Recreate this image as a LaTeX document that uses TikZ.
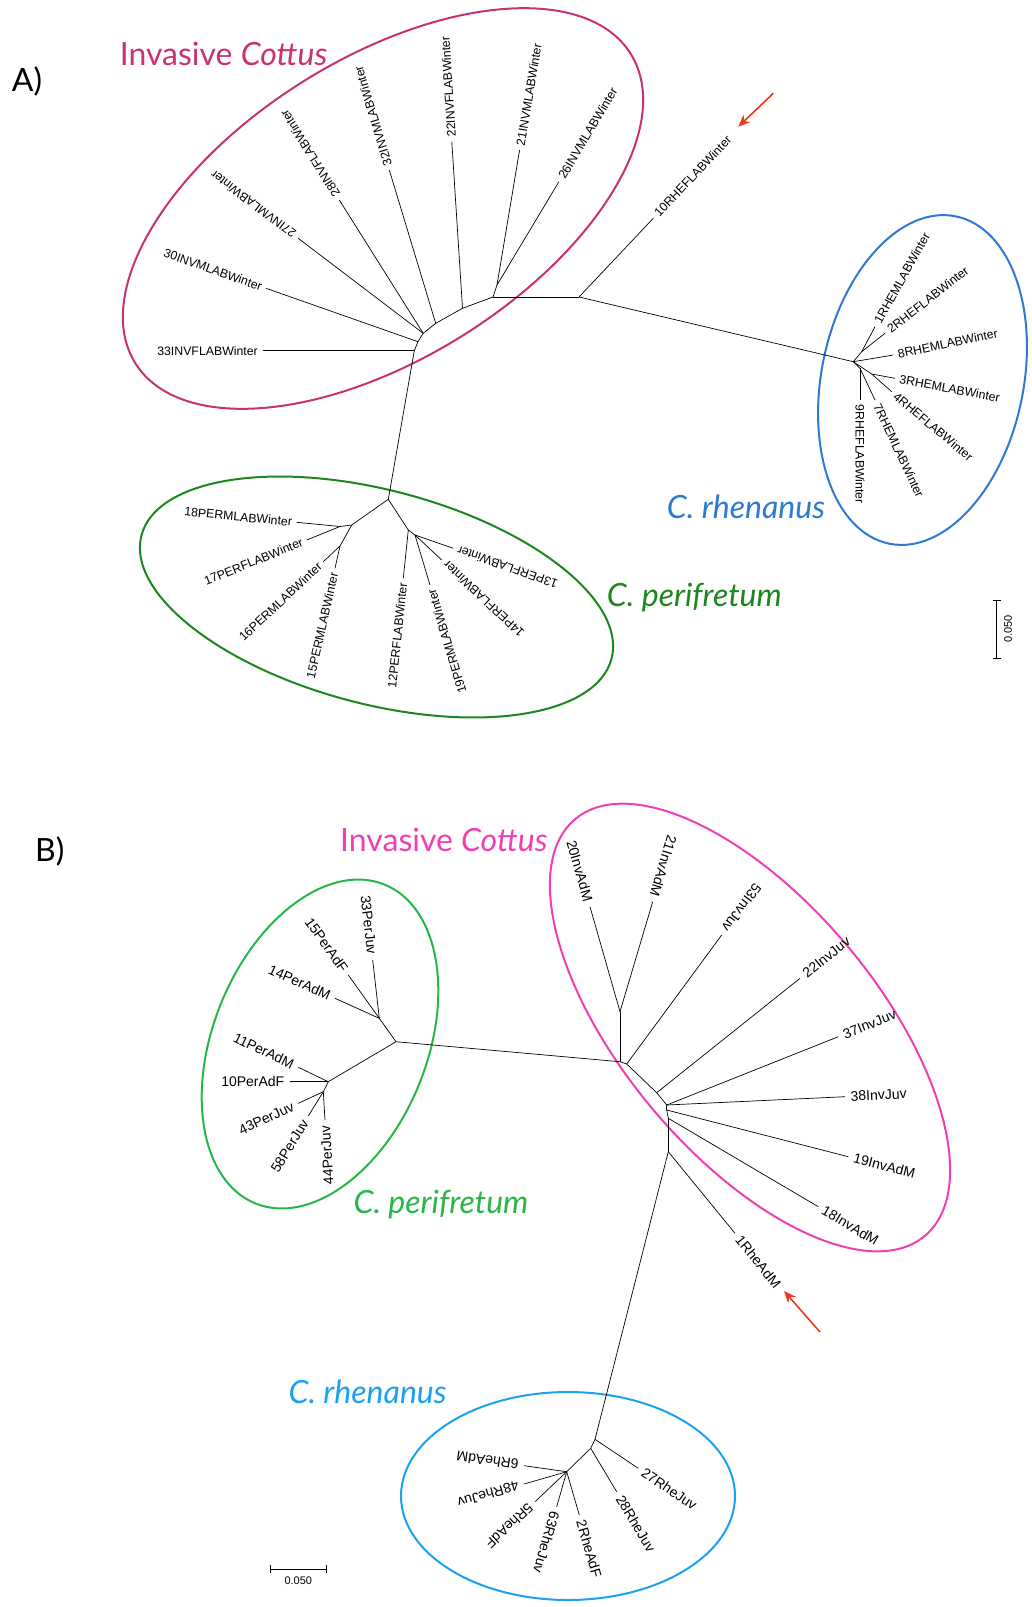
\documentclass[tikz,border=0pt]{standalone}
\usepackage{fontspec}
\setmainfont{Liberation Sans}
\newfontfamily\cladefont{Lato}
\usetikzlibrary{arrows.meta}

\definecolor{cottusA}{RGB}{200,50,115}
\definecolor{rhenA}{RGB}{45,122,208}
\definecolor{periA}{RGB}{28,135,28}
\definecolor{cottusB}{RGB}{242,62,180}
\definecolor{periB}{RGB}{40,182,70}
\definecolor{rhenB}{RGB}{28,160,240}
\definecolor{pointred}{RGB}{242,52,30}

\tikzset{
  branch/.style={draw, line width=0.7pt},
  tipA/.style={font=\fontsize{12.3}{14}\selectfont, inner sep=4.5pt},
  tipB/.style={font=\fontsize{14}{16}\selectfont, inner sep=5.5pt},
  clade/.style={font=\cladefont\fontsize{32}{34}\selectfont, anchor=base west, inner sep=0pt},
  panel/.style={font=\cladefont\fontsize{32}{34}\selectfont, anchor=base west, inner sep=0pt},
  ring/.style={line width=2pt},
  pointer/.style={draw=pointred, line width=1.6pt, -{Stealth[length=12pt,width=10pt]}},
  scalebar/.style={draw, line width=0.7pt},
  scaletext/.style={font=\fontsize{11}{12}\selectfont, inner sep=1pt},
}

\begin{document}
\begin{tikzpicture}[x=1pt,y=-1pt]
\useasboundingbox (0,0) rectangle (1032,1607);

% ---------------- A) ----------------
\node[panel] (panA) at (11.7,91.7) {A)};

\draw[ring, cottusA, rotate around={32:(383,208.5)}] (383,208.5) ellipse [x radius=292, y radius=150];
\draw[ring, rhenA, rotate around={-11.5:(922.5,380)}] (922.5,380) ellipse [x radius=101, y radius=167];
\draw[ring, periA, rotate around={-14.7:(376.5,597)}] (376.5,597) ellipse [x radius=243, y radius=107];

\node[clade, text=cottusA] (invA) at (119.6,65) {Invasive \textit{Cottus}};
\node[clade, text=rhenA] (rheA) at (666.7,518) {\textit{C. rhenanus}};
\node[clade, text=periA] (perA) at (606.7,606.7) {\textit{C. perifretum}};

% inner nodes
\coordinate (a0) at (579,297);
\coordinate (a1) at (493,297);
\coordinate (a2) at (497,285);
\coordinate (a3) at (462.5,308.3);
\coordinate (a4) at (435.7,323.3);
\coordinate (a5) at (423.2,333.3);
\coordinate (a6) at (417.9,341.7);
\coordinate (a7) at (414.3,350.7);
\coordinate (ra) at (853.3,361.7);
\coordinate (r12) at (861.7,351.7);
\coordinate (r34) at (871.7,374);
\coordinate (r79) at (860,368.3);
\coordinate (pa) at (388.3,499.3);
\coordinate (p18) at (351.7,525);
\coordinate (p1718) at (340,526.5);
\coordinate (p1516) at (340,546);
\coordinate (p13) at (408.3,530);
\coordinate (p1914) at (415,535);

% leaves
\coordinate (t26) at (558.9,181.7);
\coordinate (t21) at (519.6,150);
\coordinate (t22) at (451.8,141.7);
\coordinate (t32) at (389.3,170);
\coordinate (t28) at (339.3,200);
\coordinate (t27) at (298.2,238.3);
\coordinate (t30) at (266.1,288.3);
\coordinate (t33) at (262.5,350.7);
\coordinate (t10) at (653.3,218.3);
\coordinate (t1) at (875,326.7);
\coordinate (t2) at (885,333.3);
\coordinate (t8) at (893.3,355);
\coordinate (t3) at (895,378.3);
\coordinate (t4) at (891.7,391.7);
\coordinate (t7) at (875,400);
\coordinate (t9) at (860,400);
\coordinate (t18) at (296.7,522.3);
\coordinate (t17) at (306.7,540);
\coordinate (t16) at (323.3,561.7);
\coordinate (t15) at (335,568.3);
\coordinate (t12) at (403.3,578.3);
\coordinate (t19) at (430,585);
\coordinate (t14) at (441.7,560);
\coordinate (t13) at (453.3,548.3);

\node[tipA, anchor=west, rotate=59.1] (l26) at (t26) {26INVMLABWinter};
\node[tipA, anchor=west, rotate=80.5] (l21) at (t21) {21INVMLABWinter};
\node[tipA, anchor=west, rotate=93.7] (l22) at (t22) {22INVFLABWinter};
\node[tipA, anchor=west, rotate=106.8] (l32) at (t32) {32INVMLABWinter};
\node[tipA, anchor=west, rotate=122.2] (l28) at (t28) {28INVFLABWinter};
\node[tipA, anchor=west, rotate=142.8] (l27) at (t27) {27INVMLABWinter};
\node[tipA, anchor=east, rotate=-19.4] (l30) at (t30) {30INVMLABWinter};
\node[tipA, anchor=east] (l33) at (t33) {33INVFLABWinter};
\node[tipA, anchor=west, rotate=46.8] (l10) at (t10) {10RHEFLABWinter};
\node[tipA, anchor=west, rotate=61] (l1) at (t1) {1RHEMLABWinter};
\node[tipA, anchor=west, rotate=38] (l2) at (t2) {2RHEFLABWinter};
\node[tipA, anchor=west, rotate=12] (l8) at (t8) {8RHEMLABWinter};
\node[tipA, anchor=west, rotate=-10.5] (l3) at (t3) {3RHEMLABWinter};
\node[tipA, anchor=west, rotate=-40] (l4) at (t4) {4RHEFLABWinter};
\node[tipA, anchor=west, rotate=-64.7] (l7) at (t7) {7RHEMLABWinter};
\node[tipA, anchor=west, rotate=-90] (l9) at (t9) {9RHEFLABWinter};
\node[tipA, anchor=east, rotate=-5.5] (l18) at (t18) {18PERMLABWinter};
\node[tipA, anchor=east, rotate=22] (l17) at (t17) {17PERFLABWinter};
\node[tipA, anchor=east, rotate=43] (l16) at (t16) {16PERMLABWinter};
\node[tipA, anchor=east, rotate=77.4] (l15) at (t15) {15PERMLABWinter};
\node[tipA, anchor=east, rotate=84] (l12) at (t12) {12PERFLABWinter};
\node[tipA, anchor=east, rotate=106.7] (l19) at (t19) {19PERMLABWinter};
\node[tipA, anchor=east, rotate=137] (l14) at (t14) {14PERFLABWinter};
\node[tipA, anchor=east, rotate=160.8] (l13) at (t13) {13PERFLABWinter};

\path[branch]
  (a0) edge (a1)
  (a1) edge (a2)
  (a1) edge (a3)
  (a3) edge (a4)
  (a4) edge (a5)
  (a5) edge (a6)
  (a6) edge (a7)
  (a7) edge (pa)
  (a2) edge (t26)
  (a2) edge (t21)
  (a3) edge (t22)
  (a4) edge (t32)
  (a5) edge (t28)
  (a5) edge (t27)
  (a6) edge (t30)
  (a7) edge (t33)
  (a0) edge (t10)
  (a0) edge (ra)
  (ra) edge (r12)
  (r12) edge (t1)
  (r12) edge (t2)
  (ra) edge (t8)
  (ra) edge (r34)
  (r34) edge (t3)
  (r34) edge (t4)
  (ra) edge (r79)
  (r79) edge (t7)
  (r79) edge (t9)
  (pa) edge (p18)
  (p18) edge (p1718)
  (p1718) edge (t18)
  (p1718) edge (t17)
  (p18) edge (p1516)
  (p1516) edge (t16)
  (p1516) edge (t15)
  (pa) edge (p13)
  (p13) edge (t12)
  (p13) edge (p1914)
  (p1914) edge (t19)
  (p1914) edge (t14)
  (p1914) edge (t13)
  ;

\coordinate (arrAtail) at (773.3,93.3);
\coordinate (arrAhead) at (738.3,126.7);
\draw[pointer] (arrAtail) -- (arrAhead);

\coordinate (barAtop) at (996.7,600);
\coordinate (barAbot) at (996.7,658.3);
\path[scalebar]
  (barAtop) edge (barAbot)
  ([xshift=-4pt]barAtop) edge ([xshift=4pt]barAtop)
  ([xshift=-4pt]barAbot) edge ([xshift=4pt]barAbot);
\node[scaletext, anchor=north, rotate=90] (barAtext) at (1003,629) {0.050};

% ---------------- B) ----------------
\node[panel] (panB) at (35,861.7) {B)};

\draw[ring, periB, rotate around={-22:(320,1044)}] (320,1044) ellipse [x radius=107, y radius=172];
\draw[ring, cottusB, rotate around={40:(750,1027.5)}] (750,1027.5) ellipse [x radius=127, y radius=272];
\draw[ring, rhenB] (568,1496) ellipse [x radius=167, y radius=104];

\node[clade, text=cottusB] (invB) at (340,851.7) {Invasive \textit{Cottus}};
\node[clade, text=periB] (perB) at (353.3,1213.3) {\textit{C. perifretum}};
\node[clade, text=rhenB] (rheB) at (288.3,1403.3) {\textit{C. rhenanus}};

% inner nodes
\coordinate (q0) at (396,1041.7);
\coordinate (q1) at (379.3,1018.3);
\coordinate (q2) at (328.3,1081.7);
\coordinate (q3) at (323.3,1091.7);
\coordinate (i0) at (620,1061.7);
\coordinate (i2021) at (620,1011.7);
\coordinate (i1) at (626.7,1064);
\coordinate (i2) at (656.7,1092.7);
\coordinate (i3) at (666.7,1105);
\coordinate (i4) at (666.7,1110);
\coordinate (i5) at (668.3,1118.3);
\coordinate (i6) at (668.3,1151.7);
\coordinate (h0) at (595,1439.3);
\coordinate (h1) at (590.7,1448.3);
\coordinate (h2) at (566.7,1471.7);

% leaves
\coordinate (u33) at (372.7,960);
\coordinate (u15) at (348.3,975);
\coordinate (u14) at (335,998.3);
\coordinate (u11) at (298.3,1067.3);
\coordinate (u10) at (290,1081.7);
\coordinate (u43) at (298.3,1103.3);
\coordinate (u58) at (308.3,1116);
\coordinate (u44) at (325,1120);
\coordinate (v20) at (590,906.7);
\coordinate (v21) at (652.7,901.7);
\coordinate (v53) at (721.7,935);
\coordinate (v22) at (800,978.3);
\coordinate (v37) at (838.3,1036.7);
\coordinate (v38) at (845,1096.7);
\coordinate (v19) at (848.3,1156.7);
\coordinate (v18) at (818.3,1206.7);
\coordinate (v1) at (735,1233.3);
\coordinate (w27) at (638.3,1468.3);
\coordinate (w28) at (616.7,1491.7);
\coordinate (w6) at (524,1465.7);
\coordinate (w48) at (524,1484);
\coordinate (w5) at (535,1501.7);
\coordinate (w63) at (556.7,1506.7);
\coordinate (w2) at (579.3,1515);

\node[tipB, anchor=east, rotate=-83.5] (m33) at (u33) {33PerJuv};
\node[tipB, anchor=east, rotate=-54.4] (m15) at (u15) {15PerAdF};
\node[tipB, anchor=east, rotate=-24.3] (m14) at (u14) {14PerAdM};
\node[tipB, anchor=east, rotate=-25.6] (m11) at (u11) {11PerAdM};
\node[tipB, anchor=east] (m10) at (u10) {10PerAdF};
\node[tipB, anchor=east, rotate=25] (m43) at (u43) {43PerJuv};
\node[tipB, anchor=east, rotate=58.3] (m58) at (u58) {58PerJuv};
\node[tipB, anchor=east, rotate=93.4] (m44) at (u44) {44PerJuv};
\node[tipB, anchor=east, rotate=-74] (n20) at (v20) {20InvAdM};
\node[tipB, anchor=east, rotate=-106.6] (n21) at (v21) {21InvAdM};
\node[tipB, anchor=east, rotate=-126.4] (n53) at (v53) {53InvJuv};
\node[tipB, anchor=west, rotate=38.6] (n22) at (v22) {22InvJuv};
\node[tipB, anchor=west, rotate=21.7] (n37) at (v37) {37InvJuv};
\node[tipB, anchor=west, rotate=2.7] (n38) at (v38) {38InvJuv};
\node[tipB, anchor=west, rotate=-14.4] (n19) at (v19) {19InvAdM};
\node[tipB, anchor=west, rotate=-30.5] (n18) at (v18) {18InvAdM};
\node[tipB, anchor=west, rotate=-50.7] (n1) at (v1) {1RheAdM};
\node[tipB, anchor=west, rotate=-33.8] (o27) at (w27) {27RheJuv};
\node[tipB, anchor=west, rotate=-59] (o28) at (w28) {28RheJuv};
\node[tipB, anchor=west, rotate=172] (o6) at (w6) {6RheAdM};
\node[tipB, anchor=west, rotate=-164] (o48) at (w48) {48RheJuv};
\node[tipB, anchor=west, rotate=-136.6] (o5) at (w5) {5RheAdF};
\node[tipB, anchor=west, rotate=-106] (o63) at (w63) {63RheJuv};
\node[tipB, anchor=west, rotate=-73.8] (o2) at (w2) {2RheAdF};

\path[branch]
  (q0) edge (i0)
  (q0) edge (q1)
  (q0) edge (q2)
  (q1) edge (u33)
  (q1) edge (u15)
  (q1) edge (u14)
  (q2) edge (u11)
  (q2) edge (u10)
  (q2) edge (q3)
  (q3) edge (u43)
  (q3) edge (u58)
  (q3) edge (u44)
  (i0) edge (i2021)
  (i2021) edge (v20)
  (i2021) edge (v21)
  (i0) edge (i1)
  (i1) edge (v53)
  (i1) edge (i2)
  (i2) edge (v22)
  (i2) edge (i3)
  (i3) edge (v37)
  (i3) edge (v38)
  (i3) edge (i4)
  (i4) edge (v19)
  (i4) edge (i5)
  (i5) edge (v18)
  (i5) edge (i6)
  (i6) edge (v1)
  (i6) edge (h0)
  (h0) edge (w27)
  (h0) edge (h1)
  (h1) edge (w28)
  (h1) edge (h2)
  (h2) edge (w6)
  (h2) edge (w48)
  (h2) edge (w5)
  (h2) edge (w63)
  (h2) edge (w2)
  ;

\coordinate (arrBtail) at (820,1332);
\coordinate (arrBhead) at (784,1291);
\draw[pointer] (arrBtail) -- (arrBhead);

\coordinate (barBleft) at (270.7,1569.3);
\coordinate (barBright) at (326,1569.3);
\path[scalebar]
  (barBleft) edge (barBright)
  ([yshift=-4pt]barBleft) edge ([yshift=4pt]barBleft)
  ([yshift=-4pt]barBright) edge ([yshift=4pt]barBright);
\node[scaletext, anchor=north] (barBtext) at (298.3,1576) {0.050};
\end{tikzpicture}
\end{document}
